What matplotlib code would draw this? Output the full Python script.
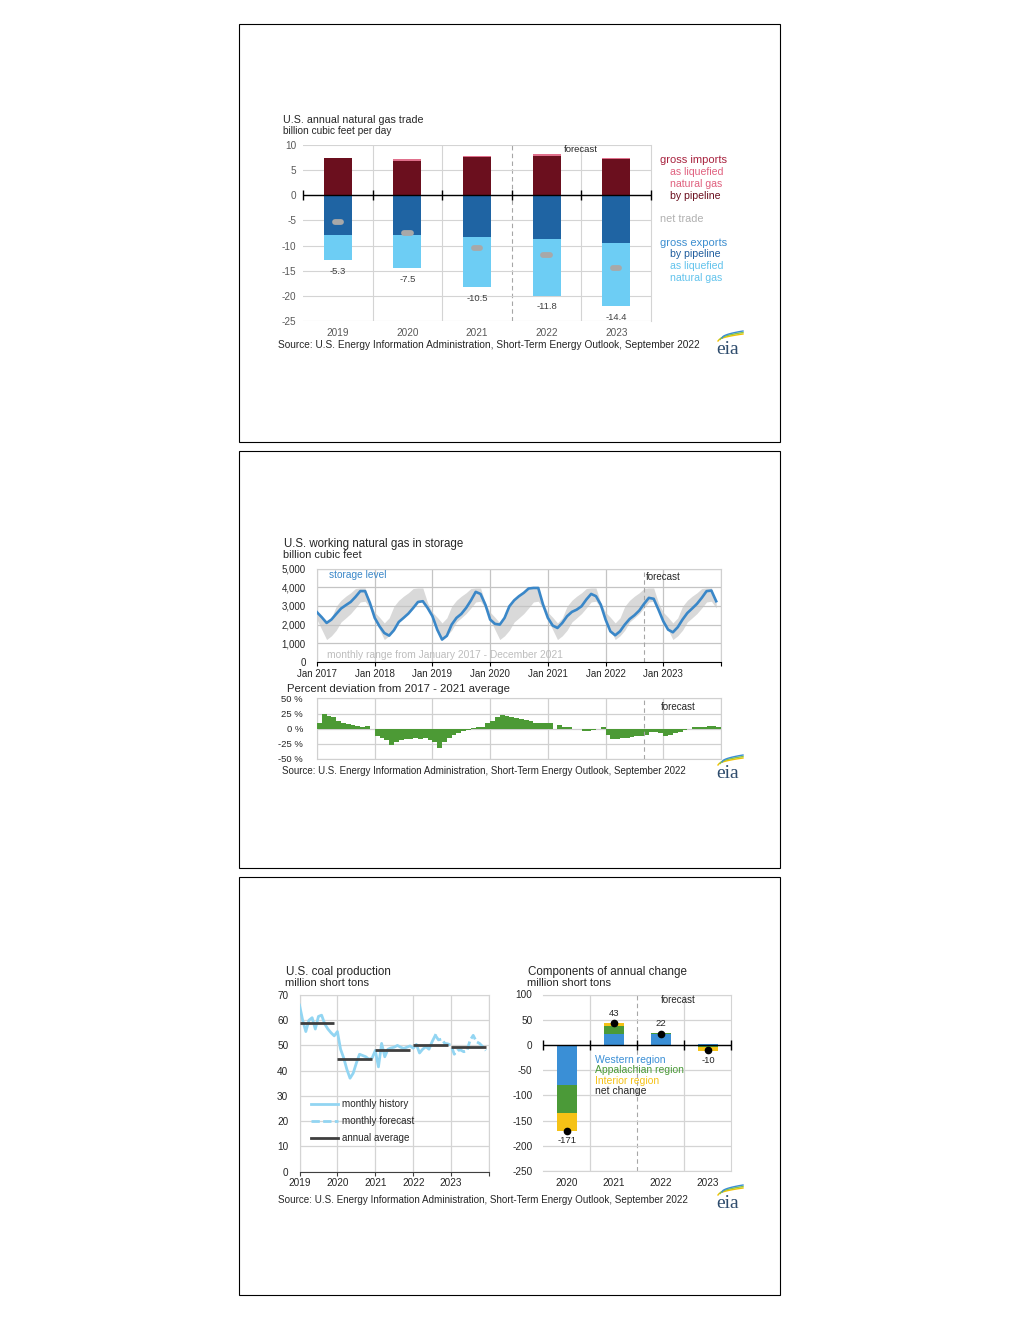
import numpy as np
import matplotlib
matplotlib.use('Agg')
import matplotlib.pyplot as plt
from matplotlib.lines import Line2D
from matplotlib.patches import Rectangle

plt.rcParams['font.family'] = ['Liberation Sans', 'DejaVu Sans']
plt.rcParams['axes.unicode_minus'] = False

# ---------------- data ----------------
trade_years = ['2019', '2020', '2021', '2022', '2023']
imports_pipeline = [7.4, 6.8, 7.6, 7.9, 7.3]
imports_lng = [0.1, 0.4, 0.2, 0.3, 0.2]
exports_pipeline = [7.8, 7.8, 8.3, 8.7, 9.5]
exports_lng = [5.1, 6.7, 10.0, 11.3, 12.5]
net_trade = [-5.3, -7.5, -10.5, -11.8, -14.4]

storage_tick_labels = ['Jan 2017', 'Jan 2018', 'Jan 2019', 'Jan 2020',
                       'Jan 2021', 'Jan 2022', 'Jan 2023']
storage_level = [
    2660, 2390, 2090, 2270, 2570, 2860, 3040, 3210, 3480, 3790, 3790, 3160,  # 2017
    2360, 1910, 1550, 1410, 1700, 2140, 2360, 2590, 2890, 3210, 3250, 2890,  # 2018
    2450, 1730, 1200, 1400, 2000, 2360, 2570, 2890, 3290, 3750, 3640, 3070,  # 2019
    2270, 2040, 2000, 2360, 2980, 3300, 3520, 3700, 3930, 3960, 3960, 3070,  # 2020
    2360, 1950, 1820, 2090, 2450, 2680, 2800, 2980, 3340, 3640, 3520, 3070,  # 2021
    2270, 1640, 1430, 1640, 2000, 2300, 2500, 2750, 3110, 3430, 3380, 2800,  # 2022
    2180, 1730, 1590, 1860, 2270, 2620, 2860, 3110, 3430, 3790, 3820, 3250,  # 2023
]
storage_forecast_start = 68  # Sep 2022

deviation_pct = [
    10, 25, 21, 20, 12, 9, 7, 6, 5, 3, 4, -1,
    -13, -15, -19, -28, -22, -19, -18, -17, -15, -17, -15, -19,
    -22, -32, -22, -16, -11, -7, -4, -2, 1, 2, 2, 10,
    12, 20, 22, 21, 19, 17, 16, 15, 13, 10, 10, 9,
    9, 0, 6, 3, 2, 0, -1, -4, -4, -2, -1, 3,
    -10, -17, -17, -16, -15, -14, -13, -12, -10, -5, -5, -8,
    -12, -10, -8, -5, -3, -1, 2, 2, 3, 4, 4, 3,
]

coal_years = [2019, 2020, 2021, 2022, 2023]
coal_monthly = [
    66.0, 60.0, 55.5, 60.0, 61.0, 56.5, 61.5, 62.0, 58.5, 56.5, 55.0, 53.8,
    55.5, 48.5, 45.0, 40.5, 37.0, 39.0, 43.0, 46.5, 46.0, 45.5, 44.5, 45.0,
    48.0, 41.5, 50.8, 45.5, 48.5, 49.0, 49.3, 50.0, 49.3, 48.8, 49.3, 49.8,
    48.9, 50.4, 47.0, 48.5, 49.5, 48.5, 51.5, 54.0, 52.2, 52.5, 50.8, 50.6,
    50.0, 46.5, 48.0, 48.2, 47.5, 47.8, 52.0, 54.0, 51.5, 50.8, 49.5, 48.0,
]
coal_history_end = 43  # Aug 2022
coal_annual_avg = [59.0, 44.5, 48.2, 50.1, 49.3]

change_years = ['2020', '2021', '2022', '2023']
western = [-79, 22, 21, 2]
appalachian = [-55, 16, 3, -4]
interior = [-37, 5, -2, -8]
net_change = [-171, 43, 22, -10]

# ---------------- colours ----------------
C_IMP_PIPE = '#6B0F1E'
C_IMP_LNG = '#E0708C'
C_EXP_PIPE = '#1F64A3'
C_EXP_LNG = '#6DCDF4'
C_NET = '#A8A8A8'
C_GRID = '#D4D4D4'
C_TICK = '#595959'
C_STORE = '#3A87C8'
C_BAND = '#D9D9D9'
C_GREEN = '#4C9A35'
C_COAL = '#92D5F2'
C_AVG = '#3F3F3F'
C_WEST = '#3A8FD6'
C_APP = '#4B9A38'
C_INT = '#F5C216'

W, H = 1020, 1320
fig = plt.figure(figsize=(W / 100, H / 100), dpi=100)
fig.patch.set_facecolor('white')


def ax_px(l, t, r, b):
    return fig.add_axes([l / W, 1 - b / H, (r - l) / W, (b - t) / H])


def ftext(x, y, s, **kw):
    kw.setdefault('va', 'center')
    kw.setdefault('ha', 'left')
    kw.setdefault('fontsize', 7)
    kw.setdefault('color', '#262626')
    fig.text(x / W, 1 - y / H, s, **kw)


def fline(x1, x2, y, **kw):
    fig.add_artist(Line2D([x1 / W, x2 / W], [1 - y / H, 1 - y / H],
                          transform=fig.transFigure, **kw))


def eia_logo(cx, cy):
    ftext(cx, cy + 3, 'eia', family=['Liberation Serif', 'DejaVu Serif'],
          fontsize=14, color='#2E4C6D', ha='center')
    tt = np.linspace(0, 1, 20)
    for k, col in enumerate(['#F2C200', '#8DC63F', '#3B8ED4']):
        x0, x1 = cx - 10 + k * 2, cx + 15
        y0, y1 = cy - 5 - k * 1.5, cy - 12 - k * 1.5
        xs = x0 + (x1 - x0) * tt
        ys = y0 + (y1 - y0) * np.sqrt(tt)
        fig.add_artist(Line2D(xs / W, 1 - ys / H, transform=fig.transFigure,
                              color=col, lw=1.0))


# panel frames
for top, bot in [(24, 442), (451, 868), (877, 1295)]:
    fig.add_artist(Rectangle((239 / W, 1 - bot / H), 541 / W, (bot - top) / H,
                             transform=fig.transFigure, fill=False,
                             ec='black', lw=0.8))

# ================= Panel 1: natural gas trade =================
ax1 = ax_px(303, 145, 651, 321)
x = np.arange(len(trade_years))
bw = 0.40
ip = np.array(imports_pipeline)
ep = np.array(exports_pipeline)
el = np.array(exports_lng)
ax1.bar(x, ip, bw, color=C_IMP_PIPE, zorder=3)
ax1.bar(x, imports_lng, bw, bottom=ip, color=C_IMP_LNG, zorder=3)
ax1.bar(x, -ep, bw, color=C_EXP_PIPE, zorder=3)
ax1.bar(x, -el, bw, bottom=-ep, color=C_EXP_LNG, zorder=3)
nl = ax1.hlines(net_trade, x - 0.045, x + 0.045, colors=C_NET, lw=4.2,
                zorder=4)
nl.set_capstyle('round')
ax1.set_xlim(-0.5, len(trade_years) - 0.5)
ax1.set_ylim(-25, 10)
ax1.set_yticks(np.arange(-25, 11, 5))
ax1.set_xticks(x)
ax1.set_xticklabels(trade_years)
ax1.grid(axis='y', color=C_GRID, lw=0.8, zorder=0)
for b in [0.5, 1.5, 3.5]:
    ax1.axvline(b, color=C_GRID, lw=0.8, zorder=0)
ax1.axvline(2.5, color='#A6A6A6', lw=0.8, ls=(0, (4, 3)), zorder=1)
for s in ['left', 'top', 'bottom']:
    ax1.spines[s].set_visible(False)
ax1.spines['right'].set_color(C_GRID)
ax1.axhline(0, color='black', lw=1, zorder=5)
ax1.plot(np.arange(-0.5, len(trade_years)), np.zeros(len(trade_years) + 1),
         ls='none', marker='|', ms=7, mew=1, color='black', zorder=5,
         clip_on=False)
ax1.tick_params(length=0, labelsize=7.2, colors=C_TICK, pad=5)
for i, v in enumerate(net_trade):
    ax1.annotate(f'{v:.1f}', xy=(i, -(ep[i] + el[i])), xytext=(0, -8),
                 textcoords='offset points', ha='center', va='center',
                 fontsize=6.8, color='#404040')

ftext(283, 120, 'U.S. annual natural gas trade', fontsize=7.7)
ftext(283, 131, 'billion cubic feet per day', fontsize=7.3)
ftext(581, 150, 'forecast', ha='center', fontsize=6.8)
ftext(660, 160, 'gross imports', color='#A8233F', fontsize=8.0)
ftext(670, 172, 'as liquefied', color='#E0607E', fontsize=7.6)
ftext(670, 184, 'natural gas', color='#E0607E', fontsize=7.6)
ftext(670, 196, 'by pipeline', color='#6B0F1E', fontsize=7.6)
ftext(660, 219, 'net trade', color='#B0B0B0', fontsize=7.8)
ftext(660, 243, 'gross exports', color='#3C8ED0', fontsize=8.0)
ftext(670, 254, 'by pipeline', color='#1F5D9E', fontsize=7.6)
ftext(670, 266, 'as liquefied', color='#62C3EC', fontsize=7.6)
ftext(670, 278, 'natural gas', color='#62C3EC', fontsize=7.6)
ftext(278, 345, 'Source: U.S. Energy Information Administration, '
      'Short-Term Energy Outlook, September 2022', fontsize=7.3)
eia_logo(728, 346)

# ================= Panel 2a: storage =================
ax2 = ax_px(317, 568.5, 721, 662)
months = np.arange(len(storage_level))
st = np.array(storage_level)
hist = st[:60].reshape(5, 12)
band_lo = hist.min(axis=0)
band_hi = hist.max(axis=0)
ax2.fill_between(months, band_lo[months % 12], band_hi[months % 12],
                 color=C_BAND, lw=0, zorder=1)
ax2.plot(months, st, color=C_STORE, lw=1.9, zorder=3)
ax2.set_xlim(0, 84)
ax2.set_ylim(0, 5000)
ax2.set_xticks(np.arange(0, 85, 12))
ax2.set_xticklabels(storage_tick_labels + [''])
ax2.set_yticks(np.arange(0, 5001, 1000))
ax2.set_yticklabels([f'{v:,}' for v in range(0, 5001, 1000)])
ax2.grid(True, color='#C4C4C4', lw=0.9, zorder=0)
for s in ['left', 'top', 'right']:
    ax2.spines[s].set_color('#D0D0D0')
ax2.spines['bottom'].set_color('black')
ax2.axvline(storage_forecast_start, color='#A6A6A6', lw=0.8, ls=(0, (4, 3)),
            zorder=2)
ax2.tick_params(axis='x', length=3, width=0.8, color='black', labelsize=7,
                colors='#262626', pad=2)
ax2.tick_params(axis='y', length=0, labelsize=7, colors='#262626', pad=8)
ftext(284, 544, 'U.S. working natural gas in storage', fontsize=8.3)
ftext(283, 555, 'billion cubic feet', fontsize=7.8)
ftext(329, 575, 'storage level', color=C_STORE, fontsize=7.3)
ftext(327, 655, 'monthly range from January 2017 - December 2021',
      color='#BDBDBD', fontsize=7.4)
ftext(646, 577, 'forecast', fontsize=7)

# ================= Panel 2b: deviation =================
ax3 = ax_px(317, 698.5, 721, 758.5)
ax3.bar(months, deviation_pct, width=1.0, align='edge', color=C_GREEN,
        lw=0, zorder=3)
ax3.set_xlim(0, 84)
ax3.set_ylim(-50, 50)
ax3.set_yticks(np.arange(-50, 51, 25))
ax3.set_yticklabels([f'{v} %' for v in range(-50, 51, 25)])
ax3.set_xticks(np.arange(0, 85, 12))
ax3.set_xticklabels([])
ax3.grid(True, color='#D0D0D0', lw=0.9, zorder=0)
for s in ax3.spines.values():
    s.set_color('#D0D0D0')
ax3.axvline(storage_forecast_start, color='#A6A6A6', lw=0.8, ls=(0, (4, 3)),
            zorder=4)
ax3.tick_params(length=0, labelsize=6.8, colors='#262626', pad=10)
ftext(287, 689, 'Percent deviation from 2017 - 2021 average', fontsize=8.2)
ftext(661, 707, 'forecast', fontsize=7)
ftext(282, 771, 'Source: U.S. Energy Information Administration, '
      'Short-Term Energy Outlook, September 2022', fontsize=7.05)
eia_logo(728, 770)

# ================= Panel 3a: coal production =================
ax4 = ax_px(299.5, 995, 489, 1171.5)
t = coal_years[0] + np.arange(len(coal_monthly)) / 12
cm = np.array(coal_monthly)
ax4.plot(t[:coal_history_end + 1], cm[:coal_history_end + 1], color=C_COAL,
         lw=2.0, zorder=3)
ax4.plot(t[coal_history_end:], cm[coal_history_end:], color=C_COAL, lw=2.0,
         ls=(0, (3, 1.2)), zorder=3)
for yr, avg in zip(coal_years, coal_annual_avg):
    ax4.plot([yr, yr + 11 / 12], [avg, avg], color=C_AVG, lw=2.0, zorder=4,
             solid_capstyle='butt')
ax4.set_xlim(2019, 2024)
ax4.set_ylim(0, 70)
ax4.set_yticks(np.arange(0, 71, 10))
ax4.set_xticks(np.arange(2019, 2025))
ax4.set_xticklabels([str(y) for y in coal_years] + [''])
ax4.grid(True, color='#D4D4D4', lw=0.9, zorder=0)
for s in ['left', 'top', 'right']:
    ax4.spines[s].set_color('#D4D4D4')
ax4.spines['bottom'].set_color('#404040')
ax4.tick_params(axis='x', length=3, width=0.8, color='#404040',
                labelsize=7.2, colors='#262626', pad=2)
ax4.tick_params(axis='y', length=0, labelsize=7.2, colors='#262626', pad=8)
ftext(286, 972, 'U.S. coal production', fontsize=8.4)
ftext(285, 983, 'million short tons', fontsize=8.0)
fline(311, 338, 1104, color=C_COAL, lw=2.0)
fline(311, 338, 1121, color=C_COAL, lw=2.0, ls=(0, (3, 1.2)))
fline(311, 338, 1138, color=C_AVG, lw=2.0)
ftext(342, 1104, 'monthly history', fontsize=7.1)
ftext(342, 1121, 'monthly forecast', fontsize=7.1)
ftext(342, 1138, 'annual average', fontsize=7.1)

# ================= Panel 3b: components of change =================
ax5 = ax_px(543.5, 994.5, 731.5, 1171)
xc = np.arange(len(change_years))
pos_base = np.zeros(len(change_years))
neg_base = np.zeros(len(change_years))
for vals, col in [(western, C_WEST), (appalachian, C_APP), (interior, C_INT)]:
    v = np.array(vals, dtype=float)
    base = np.where(v >= 0, pos_base, neg_base)
    ax5.bar(xc, v, 0.42, bottom=base, color=col, zorder=3)
    pos_base = pos_base + np.where(v >= 0, v, 0)
    neg_base = neg_base + np.where(v < 0, v, 0)
ax5.plot(xc, net_change, ls='none', marker='o', ms=4.5, color='black',
         zorder=6)
for i, v in enumerate(net_change):
    if v >= 0:
        ax5.annotate(f'{v}', xy=(i, pos_base[i]), xytext=(0, 7),
                     textcoords='offset points', ha='center', va='center',
                     fontsize=6.8, color='#262626')
    else:
        ax5.annotate(f'{v}', xy=(i, neg_base[i]), xytext=(0, -7),
                     textcoords='offset points', ha='center', va='center',
                     fontsize=6.8, color='#262626')
ax5.set_xlim(-0.5, len(change_years) - 0.5)
ax5.set_ylim(-250, 100)
ax5.set_yticks(np.arange(-250, 101, 50))
ax5.set_xticks(xc)
ax5.set_xticklabels(change_years)
ax5.grid(axis='y', color='#D4D4D4', lw=0.9, zorder=0)
for b in [0.5, 2.5]:
    ax5.axvline(b, color='#D4D4D4', lw=0.9, zorder=0)
ax5.axvline(1.5, color='#A6A6A6', lw=0.8, ls=(0, (4, 3)), zorder=1)
ax5.spines['left'].set_visible(False)
for s in ['top', 'right', 'bottom']:
    ax5.spines[s].set_color('#D4D4D4')
ax5.axhline(0, color='black', lw=1, zorder=5)
ax5.plot(np.arange(-0.5, len(change_years)), np.zeros(len(change_years) + 1),
         ls='none', marker='|', ms=7, mew=1, color='black', zorder=5,
         clip_on=False)
ax5.tick_params(length=0, labelsize=7.2, colors='#262626', pad=8)
ax5.tick_params(axis='x', pad=5)
ftext(528, 972, 'Components of annual change', fontsize=8.4)
ftext(527, 983, 'million short tons', fontsize=8.0)
ftext(661, 1000, 'forecast', fontsize=7)
ftext(595, 1060, 'Western region', color=C_WEST, fontsize=7.5)
ftext(595, 1070, 'Appalachian region', color=C_APP, fontsize=7.5)
ftext(595, 1081, 'Interior region', color=C_INT, fontsize=7.5)
ftext(595, 1091, 'net change', color='#262626', fontsize=7.5)
ftext(278, 1200, 'Source: U.S. Energy Information Administration, '
      'Short-Term Energy Outlook, September 2022', fontsize=7.1)
eia_logo(728, 1200)

fig.savefig('out.png', dpi=100, facecolor='white')
